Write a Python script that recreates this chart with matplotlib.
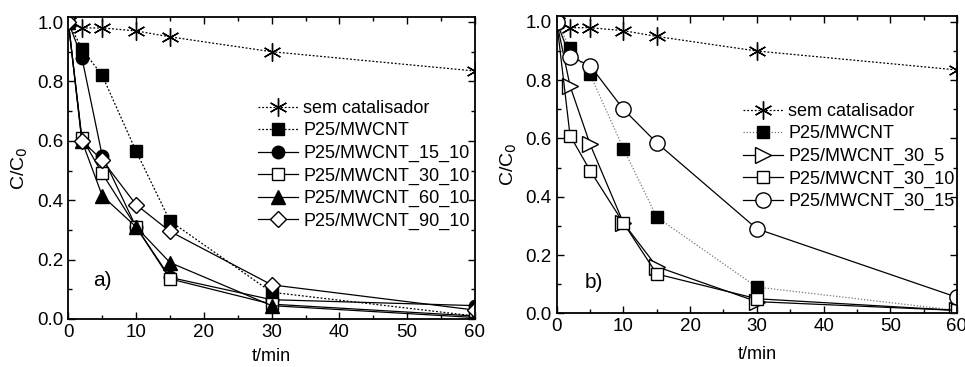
import matplotlib.pyplot as plt
from matplotlib.ticker import MultipleLocator

plt.rcParams['font.family'] = ['Liberation Sans', 'DejaVu Sans']

t = [0, 2, 5, 10, 15, 30, 60]

# panel a) - effect of calcination time
sem_cat = [1.0, 0.98, 0.98, 0.97, 0.95, 0.90, 0.835]
p25_mwcnt = [1.0, 0.91, 0.82, 0.565, 0.33, 0.09, 0.01]
p25_15_10 = [1.0, 0.88, 0.55, 0.31, 0.14, 0.065, 0.045]
p25_30_10 = [1.0, 0.61, 0.49, 0.31, 0.135, 0.05, 0.01]
p25_60_10 = [1.0, 0.60, 0.415, 0.31, 0.19, 0.045, 0.005]
p25_90_10 = [1.0, 0.60, 0.535, 0.385, 0.295, 0.115, 0.03]

# panel b) - effect of loading
p25_30_5 = [1.0, 0.78, 0.58, 0.31, 0.16, 0.04, 0.01]
p25_30_15 = [1.0, 0.88, 0.85, 0.70, 0.585, 0.29, 0.055]

fig = plt.figure(figsize=(9.65, 3.67), dpi=100)
ax_a = fig.add_axes([0.0708, 0.1308, 0.4214, 0.823])
ax_b = fig.add_axes([0.5769, 0.1463, 0.4148, 0.810])

ms = 8
mew = 1.0
lw = 0.9

ax_a.plot(t, sem_cat, ls=(0, (1.5, 1.5)), color='k', lw=lw, marker=(6, 2, 0),
          ms=13, mew=mew, label='sem catalisador')
ax_a.plot(t, p25_mwcnt, ls=(0, (1.5, 1.5)), color='k', lw=lw, marker='s',
          ms=ms, mfc='k', mew=mew, label='P25/MWCNT')
ax_a.plot(t, p25_15_10, ls='-', color='k', lw=lw, marker='o', ms=ms + 1,
          mfc='k', mew=mew, label='P25/MWCNT_15_10')
ax_a.plot(t, p25_30_10, ls='-', color='k', lw=lw, marker='s', ms=ms,
          mfc='white', mew=mew, label='P25/MWCNT_30_10')
ax_a.plot(t, p25_60_10, ls='-', color='k', lw=lw, marker='^', ms=ms + 2,
          mfc='k', mew=mew, label='P25/MWCNT_60_10')
ax_a.plot(t, p25_90_10, ls='-', color='k', lw=lw, marker='D', ms=ms,
          mfc='white', mew=mew, label='P25/MWCNT_90_10')

ax_b.plot(t, sem_cat, ls=(0, (1.5, 1.5)), color='k', lw=lw, marker=(6, 2, 0),
          ms=13, mew=mew, label='sem catalisador')
ax_b.plot(t, p25_mwcnt, ls=(0, (1, 1.5)), color='#777777', lw=lw, marker='s',
          ms=ms, mfc='k', mec='k', mew=mew, label='P25/MWCNT')
ax_b.plot(t, p25_30_5, ls='-', color='k', lw=lw, marker='>', ms=ms + 3,
          mfc='white', mew=mew, label='P25/MWCNT_30_5')
ax_b.plot(t, p25_30_10, ls='-', color='k', lw=lw, marker='s', ms=ms + 1,
          mfc='white', mew=mew, label='P25/MWCNT_30_10')
ax_b.plot(t, p25_30_15, ls='-', color='k', lw=lw, marker='o', ms=ms + 3,
          mfc='white', mew=mew, label='P25/MWCNT_30_15')

for ax, top in ((ax_a, 1.017), (ax_b, 1.02)):
    ax.set_xlim(0, 60)
    ax.set_ylim(0, top)
    ax.xaxis.set_major_locator(MultipleLocator(10))
    ax.xaxis.set_minor_locator(MultipleLocator(5))
    ax.yaxis.set_major_locator(MultipleLocator(0.2))
    ax.yaxis.set_minor_locator(MultipleLocator(0.1))
    ax.yaxis.set_major_formatter(plt.FormatStrFormatter('%.1f'))
    ax.tick_params(which='both', direction='in', top=True, right=True,
                   labelsize=13.5, width=1.0)
    ax.tick_params(which='major', length=5)
    ax.tick_params(which='minor', length=3)
    for s in ax.spines.values():
        s.set_linewidth(1.3)
    ax.set_ylabel('C/C$_0$', fontsize=14, labelpad=5)

ax_a.set_xlabel('t/min', fontsize=13, labelpad=5)
ax_b.set_xlabel('t/min', fontsize=13, labelpad=8)

ax_a.text(3.7, 0.13, 'a)', fontsize=15, ha='left', va='center')
ax_b.text(4.2, 0.105, 'b)', fontsize=15, ha='left', va='center')

leg_kw = dict(frameon=False, loc='upper left', fontsize=13, handlelength=2.2,
              handletextpad=0.3, labelspacing=0.3, borderaxespad=0,
              borderpad=0)
ax_a.legend(bbox_to_anchor=(258 / 965, 1 - 100 / 367),
            bbox_transform=fig.transFigure, **leg_kw)
ax_b.legend(bbox_to_anchor=(743 / 965, 1 - 103 / 367),
            bbox_transform=fig.transFigure, **leg_kw)

fig.savefig('out.png', dpi=100)
